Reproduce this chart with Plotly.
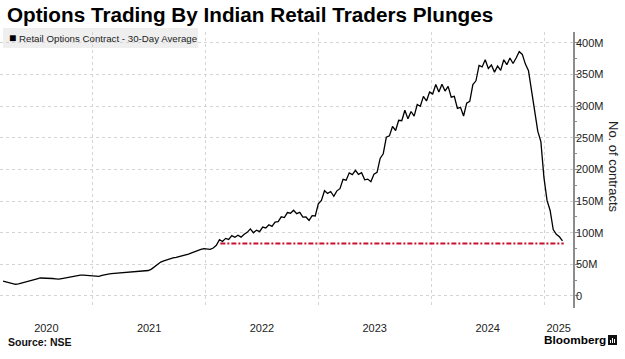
import pandas as pd
import plotly.graph_objects as go

# ---- data (values in millions of contracts, sampled every 10 days) ----
start_date = "2020-03-17"
values = [
    23.5, 22.0, 20.6, 19.5, 18.5, 19.2, 20.3, 21.5, 23.0, 24.2,
    25.6, 27.0, 28.4, 28.4, 28.2, 28.0, 27.6, 27.0, 26.5, 27.5,
    28.6, 29.5, 30.5, 31.5, 32.2, 32.9, 32.9, 32.3, 31.7, 31.2,
    30.8, 31.0, 32.6, 34.0, 34.6, 35.2, 35.6, 35.8, 36.0, 36.3,
    36.6, 36.9, 37.3, 37.8, 38.2, 38.8, 39.4, 40.2, 42.5, 46.7,
    50.5, 53.6, 55.6, 57.3, 58.6, 60.0, 61.1, 62.2, 63.5, 64.8,
    66.2, 68.2, 70.2, 72.2, 73.6, 74.8, 74.0, 73.6, 75.8, 80.0,
    89.0, 86.1, 91.0, 89.4, 95.4, 92.6, 96.0, 93.0, 97.6, 100.5,
    105.9, 99.9, 103.9, 101.6, 108.8, 107.4, 112.5, 110.0, 116.8, 117.6,
    125.0, 123.8, 131.8, 130.8, 135.5, 130.1, 132.0, 124.5, 124.7, 119.3,
    126.9, 126.4, 145.5, 151.0, 166.3, 162.0, 165.0, 157.5, 166.1, 169.5,
    184.3, 183.0, 194.5, 191.8, 198.6, 192.0, 194.8, 183.5, 184.6, 180.6,
    192.4, 195.4, 217.2, 224.7, 250.7, 252.9, 267.8, 261.4, 277.5, 276.9,
    293.4, 279.8, 291.4, 284.2, 302.4, 299.7, 315.4, 308.0, 322.1, 319.2,
    334.1, 322.2, 334.4, 323.7, 331.2, 314.0, 315.4, 296.4, 298.0, 284.3,
    304.5, 307.5, 334.0, 339.9, 364.3, 361.8, 373.2, 359.4, 364.8, 353.6,
    363.2, 356.3, 373.1, 365.4, 376.0, 367.2, 376.0, 386.0, 381.6, 366.3,
    355.7, 324.5, 294.5, 260.4, 244.0, 187.0, 151.0, 135.0, 105.0, 97.5,
    93.5, 87.0,
]
dates = pd.date_range(start_date, periods=len(values), freq="10D")

ref_dates = ["2022-02-18", "2025-03-05"]
ref_level = [83, 83]

y_ticks = [0, 50, 100, 150, 200, 250, 300, 350, 400]
y_ticktext = ["0", "50M", "100M", "150M", "200M", "250M", "300M", "350M", "400M"]
years = ["2020", "2021", "2022", "2023", "2024", "2025"]

x_range = [pd.Timestamp("2020-03-07"), pd.Timestamp("2025-04-04")]

# year labels centred on the visible part of each year
year_pos = []
for y in years:
    a = max(pd.Timestamp(f"{y}-01-01"), x_range[0])
    b = min(pd.Timestamp(f"{int(y)+1}-01-01"), x_range[1])
    year_pos.append(a + (b - a) / 2)
year_starts = [pd.Timestamp(f"{y}-01-01") for y in years[1:]]

FONT = "Liberation Sans"
W, H = 625, 359
L, R, T, B = 0, 52, 32, 51
PW, PH = W - L - R, H - T - B


def px(x):
    return (x - L) / PW


def py(y):
    return (H - B - y) / PH


fig = go.Figure()
fig.add_trace(go.Scatter(x=ref_dates, y=ref_level, mode="lines",
                         line=dict(color="#c8102e", width=2, dash="5px,2px,2px,2px"),
                         hoverinfo="skip"))
fig.add_trace(go.Scatter(x=dates, y=values, mode="lines",
                         line=dict(color="#000000", width=1.3)))

fig.update_layout(
    width=W, height=H,
    margin=dict(l=L, r=R, t=T, b=B),
    plot_bgcolor="white", paper_bgcolor="white",
    showlegend=False,
    font=dict(family=FONT, color="#222"),
    xaxis=dict(
        type="date", range=x_range,
        tickmode="array", tickvals=year_pos, ticktext=years,
        showgrid=False, zeroline=False, showline=False,
        ticks="outside", ticklen=10, tickcolor="rgba(0,0,0,0)",
        tickfont=dict(size=11, color="#222", family=FONT),
        minor=dict(tickmode="array", tickvals=year_starts, showgrid=True,
                   gridcolor="#d4d4d4", griddash="dot", gridwidth=1, ticks=""),
    ),
    yaxis=dict(
        side="right", range=[-19, 417],
        tickmode="array", tickvals=y_ticks, ticktext=y_ticktext,
        showgrid=True, gridcolor="#d4d4d4", griddash="dot", gridwidth=1,
        zeroline=False, showline=True, linecolor="#8c8c8c", linewidth=1.5,
        ticks="outside", ticklen=4, tickcolor="#8c8c8c", tickwidth=1,
        ticklabelstandoff=-5,
        tickfont=dict(size=11, color="#222", family=FONT),
        minor=dict(tickmode="linear", tick0=0, dtick=25, ticks="outside",
                   ticklen=2, tickcolor="#8c8c8c", showgrid=False),
    ),
)

shapes = [
    dict(type="rect", xref="paper", yref="paper",
         x0=px(3), x1=px(198), y0=py(48), y1=py(28),
         fillcolor="#efefef", line=dict(width=0), layer="below"),
    dict(type="rect", xref="paper", yref="paper",
         x0=px(608), x1=px(617), y0=py(345), y1=py(335),
         fillcolor="#111", line=dict(width=0)),
]
for xb, h in [(610.5, 3), (612.5, 5), (614.5, 4)]:
    shapes.append(dict(type="line", xref="paper", yref="paper",
                       x0=px(xb), x1=px(xb), y0=py(343), y1=py(343 - h),
                       line=dict(color="white", width=1)))
fig.update_layout(shapes=shapes)

ann = [
    dict(text="<b>Options Trading By Indian Retail Traders Plunges</b>",
         x=px(5), y=py(15), xanchor="left", yanchor="middle",
         font=dict(size=20.7, color="#000", family=FONT)),
    dict(text="■", x=px(12), y=py(38), xanchor="center", yanchor="middle",
         font=dict(size=12, color="#000", family=FONT)),
    dict(text="Retail Options Contract - 30-Day Average",
         x=px(17), y=py(38), xanchor="left", yanchor="middle",
         font=dict(size=9.7, color="#222", family=FONT)),
    dict(text="No. of contracts", x=px(614), y=py(167), xanchor="center",
         yanchor="middle", textangle=90,
         font=dict(size=13, color="#222", family=FONT)),
    dict(text="<b>Source: NSE</b>", x=px(6), y=py(342), xanchor="left",
         yanchor="middle", font=dict(size=10.5, color="#111", family=FONT)),
    dict(text="<b>Bloomberg</b>", x=px(542), y=py(340), xanchor="left",
         yanchor="middle", font=dict(size=11.8, color="#000", family=FONT)),
]
for a in ann:
    a.update(xref="paper", yref="paper", showarrow=False)
fig.update_layout(annotations=ann)

fig.write_html("out.html", config={"displayModeBar": False},
               post_script="document.body.style.margin='0';document.body.style.overflow='hidden';")
